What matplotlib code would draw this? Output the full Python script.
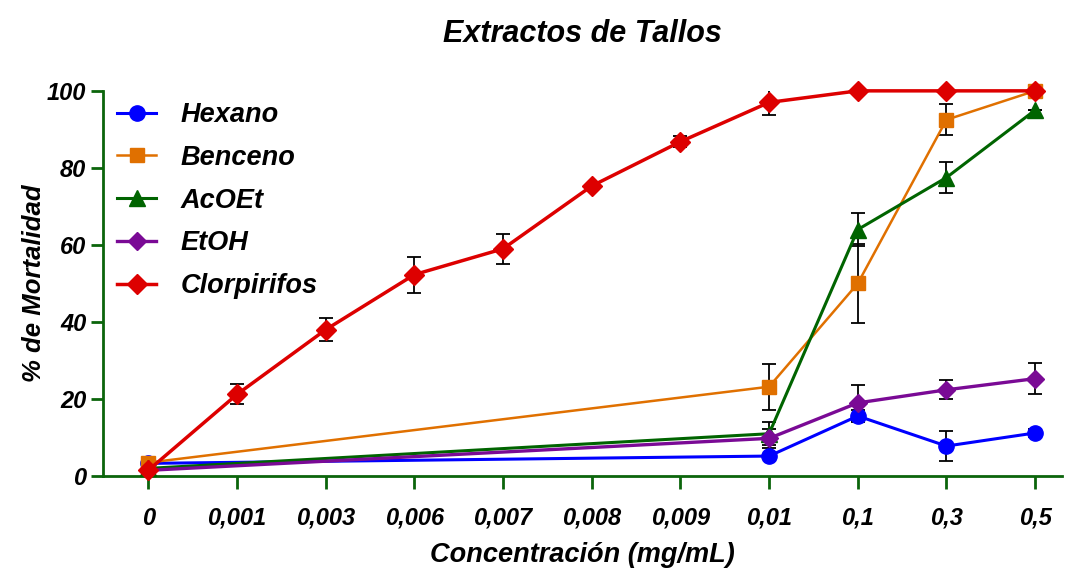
import numpy as np
import matplotlib
matplotlib.use("Agg")
import matplotlib.pyplot as plt

plt.rcParams["font.family"] = ["Liberation Sans", "DejaVu Sans"]
plt.rcParams["font.weight"] = "bold"
plt.rcParams["font.style"] = "italic"

# Concentraciones (eje categórico)
concentraciones = ["0", "0,001", "0,003", "0,006", "0,007", "0,008",
                   "0,009", "0,01", "0,1", "0,3", "0,5"]

# Extractos: solo evaluados en 0, 0,01, 0,1, 0,3 y 0,5
idx_extractos = [0, 7, 8, 9, 10]

hexano = [3.3, 5.2, 15.6, 7.8, 11.2]
hexano_err = [0, 0, 1.5, 4.0, 1.0]

benceno = [3.5, 23.2, 50.0, 92.5, 100.0]
benceno_err = [0, 6.0, 10.3, 4.0, 0]

acoet = [2.0, 11.0, 64.0, 77.5, 95.0]
acoet_err = [0, 3.0, 4.2, 4.0, 0]

etoh = [1.5, 9.8, 19.0, 22.4, 25.3]
etoh_err = [0, 2.5, 4.6, 2.5, 4.0]

# Control positivo, evaluado en todas las concentraciones
clorpirifos = [1.5, 21.2, 38.0, 52.3, 59.0, 75.3, 86.8, 97.0, 100.0, 100.0, 100.0]
clorpirifos_err = [0, 2.6, 3.0, 4.7, 3.9, 0.5, 1.5, 3.3, 0, 0, 0]

series = [
    ("Hexano", idx_extractos, hexano, hexano_err, "#0000ff", "o", 11, 2.2),
    ("Benceno", idx_extractos, benceno, benceno_err, "#e07000", "s", 10.5, 1.8),
    ("AcOEt", idx_extractos, acoet, acoet_err, "#006400", "^", 11, 2.2),
    ("EtOH", idx_extractos, etoh, etoh_err, "#7a0a95", "D", 9.5, 2.4),
    ("Clorpirifos", list(range(len(concentraciones))), clorpirifos,
     clorpirifos_err, "#dd0000", "D", 10.5, 2.5),
]

eje_color = "#0b650b"

fig = plt.figure(figsize=(10.7, 5.75), dpi=100)
ax = fig.add_axes([0.0963, 0.172, 0.896, 0.670])

for nombre, xs, ys, errs, color, marker, ms, lw in series:
    ax.errorbar(xs, ys, yerr=errs, fmt="none", ecolor="black",
                elinewidth=1.3, capsize=5, capthick=1.3, zorder=2)
    ax.plot(xs, ys, color=color, marker=marker, markersize=ms,
            linewidth=lw, label=nombre, zorder=3, clip_on=False)

ax.set_xlim(-0.51, 10.3)
ax.set_ylim(0, 100)
ax.set_xticks(range(len(concentraciones)))
ax.set_xticklabels(concentraciones)
ax.set_yticks([0, 20, 40, 60, 80, 100])

for s in ["top", "right"]:
    ax.spines[s].set_visible(False)
for s in ["left", "bottom"]:
    ax.spines[s].set_color(eje_color)
    ax.spines[s].set_linewidth(2.0)

ax.tick_params(axis="both", colors=eje_color, width=2.0, labelcolor="black",
               labelsize=17)
ax.tick_params(axis="y", length=9, pad=3)
ax.tick_params(axis="x", length=9, pad=13)

ax.set_xlabel("Concentración (mg/mL)", fontsize=19.5, fontweight="bold",
              labelpad=9)
ax.set_ylabel("% de Mortalidad", fontsize=18.5, fontweight="bold",
              labelpad=1)
ax.set_title("Extractos de Tallos", fontsize=22, fontweight="bold", pad=35)

leg = ax.legend(loc="upper left", bbox_to_anchor=(-0.005, 1.02), frameon=False,
                fontsize=19.5, handlelength=1.45, handletextpad=0.9,
                labelspacing=0.62, borderaxespad=0.3)

fig.savefig("out.png", dpi=100)
